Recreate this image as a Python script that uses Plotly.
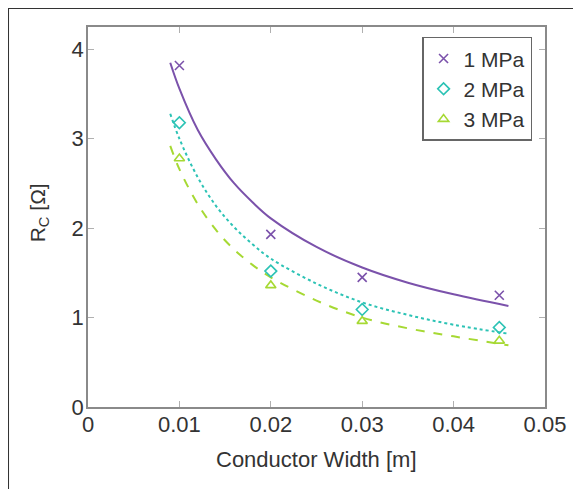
import plotly.graph_objects as go

# Measured points
width_m = [0.01, 0.02, 0.03, 0.045]
rc_1mpa = [3.82, 1.93, 1.45, 1.25]
rc_2mpa = [3.18, 1.52, 1.09, 0.89]
rc_3mpa = [2.78, 1.36, 0.96, 0.74]

# Fit curves
fit_x = [0.009, 0.010, 0.012, 0.014, 0.016, 0.018, 0.020, 0.025, 0.030, 0.035, 0.040, 0.046]
fit_1mpa = [3.85, 3.56, 3.10, 2.77, 2.50, 2.29, 2.11, 1.79, 1.56, 1.39, 1.26, 1.13]
fit_2mpa = [3.28, 3.00, 2.57, 2.25, 2.01, 1.82, 1.66, 1.38, 1.17, 1.03, 0.92, 0.82]
fit_3mpa = [2.92, 2.66, 2.27, 1.98, 1.76, 1.59, 1.45, 1.19, 1.00, 0.88, 0.79, 0.69]

labels = ["1 MPa", "2 MPa", "3 MPa"]
colors = ["#7b52ab", "#2cc3b5", "#a6d933"]
symbols = ["x-thin-open", "diamond-open", "triangle-up-open"]
dashes = ["solid", "dot", "dash"]

FONT = "Liberation Sans, Arial, sans-serif"

fig = go.Figure()
for fy, c, d in zip([fit_1mpa, fit_2mpa, fit_3mpa], colors, dashes):
    fig.add_trace(go.Scatter(x=fit_x, y=fy, mode="lines", line=dict(color=c, width=2, dash=d, shape="spline"),
                             showlegend=False, hoverinfo="skip"))
for py, c, s, n in zip([rc_1mpa, rc_2mpa, rc_3mpa], colors, symbols, labels):
    fig.add_trace(go.Scatter(x=width_m, y=py, mode="markers", name=n,
                             marker=dict(symbol=s, size=9, color=c, line=dict(width=1.6, color=c))))

axis_common = dict(showgrid=False, zeroline=False, showline=True, linecolor="#8a8a8a", linewidth=1.5,
                   mirror="allticks", ticks="inside", ticklen=6, tickcolor="#b0b0b0", automargin=False,
                   tickfont=dict(family=FONT, size=22, color="#333333"))

fig.update_xaxes(range=[0, 0.05], tickvals=[0, 0.01, 0.02, 0.03, 0.04, 0.05],
                 ticktext=["0", "0.01", "0.02", "0.03", "0.04", "0.05"],
                 ticklabelstandoff=-3, **axis_common)
fig.update_yaxes(range=[0, 4.25], tickvals=[0, 1, 2, 3, 4],
                 ticklabelstandoff=-2, **axis_common)

fig.update_layout(
    width=573, height=481,
    margin=dict(l=80, r=36, t=19, b=82),
    paper_bgcolor="white", plot_bgcolor="white",
    legend=dict(x=0.731, y=0.974, xanchor="left", yanchor="top",
                bordercolor="#666666", borderwidth=1.5, bgcolor="white",
                font=dict(family=FONT, size=21, color="#333333"),
                itemwidth=30, tracegroupgap=0),
    annotations=[
        dict(text="Conductor Width [m]", xref="paper", yref="paper", x=0.5, y=-0.139,
             xanchor="center", yanchor="middle", showarrow=False,
             font=dict(family=FONT, size=22, color="#333333")),
        dict(text="R<sub>C</sub> [Ω]", xref="paper", yref="paper", x=-0.107, y=0.51,
             xanchor="center", yanchor="middle", showarrow=False, textangle=-90,
             font=dict(family=FONT, size=21, color="#333333")),
    ],
    shapes=[
        dict(type="line", xref="paper", yref="paper", x0=-0.175, x1=1.1, y0=1.05, y1=1.05,
             line=dict(color="#333333", width=2)),
        dict(type="line", xref="paper", yref="paper", x0=-0.175, x1=-0.175, y0=1.05, y1=-0.25,
             line=dict(color="#333333", width=2)),
    ],
)

fig.write_html("out.html")
